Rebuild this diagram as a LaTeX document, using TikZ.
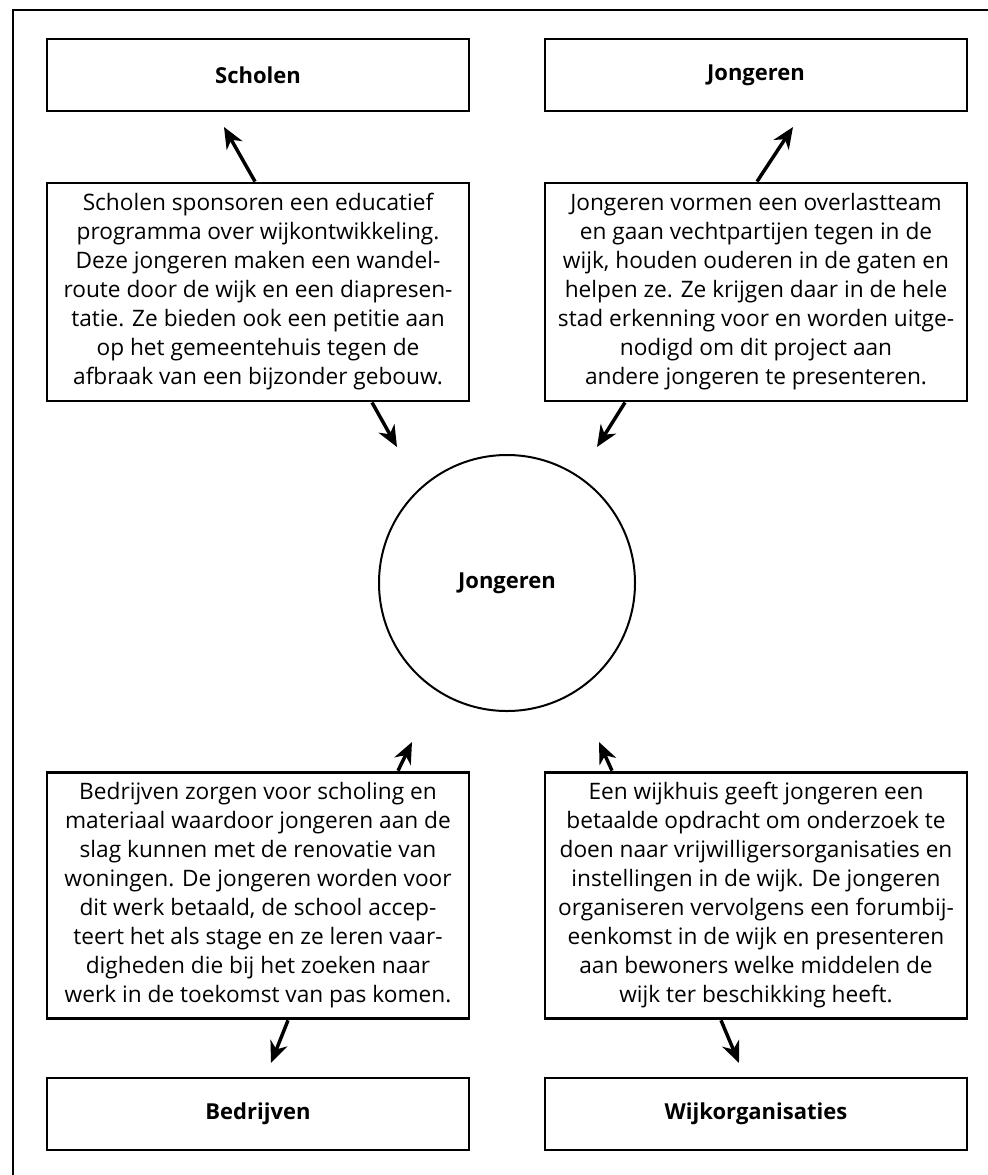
\documentclass[tikz,border=0pt]{standalone}
\usepackage{fontspec}
\setmainfont{Open Sans}
\usetikzlibrary{arrows.meta}

\tikzset{
	kader/.style={draw, line width=2.2pt, rectangle, minimum width=316.5pt, inner sep=0pt},
	titelbox/.style={kader, minimum height=54pt, font=\fontsize{16.5}{18}\selectfont\bfseries},
	tekstbox/.style={kader, align=center, font=\fontsize{17}{21.75}\selectfont},
	middelpunt/.style={draw, circle, line width=1.5pt, minimum size=192pt, font=\fontsize{16.5}{18}\selectfont\bfseries},
	pijl/.style={line width=2.6pt, -{Stealth[length=16pt, width=13.5pt, inset=5pt]}}
}

\begin{document}
\begin{tikzpicture}[x=0.75pt, y=-0.75pt]
\useasboundingbox (0,0) rectangle (988,1175);
\draw[line width=2.2pt] (13,1180) -- (13,10) -- (995,10);

\pgfmathsetmacro{\kolL}{258}
\pgfmathsetmacro{\kolR}{756}

\node[titelbox] (scholen) at (\kolL,75) {Scholen};
\node[titelbox] (jongerenB) at (\kolR,75) {Jongeren};

\node[tekstbox, minimum height=163.5pt] (tekstA) at (\kolL,292) {Scholen sponsoren een educatief\\
programma over wijkontwikkeling.\\
Deze jongeren maken een wandel-\\
route door de wijk en een diapresen-\\
tatie. Ze bieden ook een petitie aan\\
op het gemeentehuis tegen de\\
afbraak van een bijzonder gebouw.};
\node[tekstbox, minimum height=163.5pt] (tekstB) at (\kolR,292) {Jongeren vormen een overlastteam\\
en gaan vechtpartijen tegen in de\\
wijk, houden ouderen in de gaten en\\
helpen ze. Ze krijgen daar in de hele\\
stad erkenning voor en worden uitge-\\
nodigd om dit project aan\\
andere jongeren te presenteren.};

\node[middelpunt] (jongeren) at (507,583) {Jongeren};

\node[tekstbox, minimum height=185pt] (tekstC) at (\kolL,895.5) {Bedrijven zorgen voor scholing en\\
materiaal waardoor jongeren aan de\\
slag kunnen met de renovatie van\\
woningen. De jongeren worden voor\\
dit werk betaald, de school accep-\\
teert het als stage en ze leren vaar-\\
digheden die bij het zoeken naar\\
werk in de toekomst van pas komen.};
\node[tekstbox, minimum height=185pt] (tekstD) at (\kolR,895.5) {Een wijkhuis geeft jongeren een\\
betaalde opdracht om onderzoek te\\
doen naar vrijwilligersorganisaties en\\
instellingen in de wijk. De jongeren\\
organiseren vervolgens een forumbij-\\
eenkomst in de wijk en presenteren\\
aan bewoners welke middelen de\\
wijk ter beschikking heeft.};

\node[titelbox] (bedrijven) at (\kolL,1114) {Bedrijven};
\node[titelbox] (wijkorg) at (\kolR,1114) {Wijkorganisaties};

% vrije pijlpunten
\coordinate (puntA) at (224,127);
\coordinate (puntB) at (793,127);
\coordinate (puntC) at (397,447);
\coordinate (puntD) at (597,447);
\coordinate (puntE) at (412,742);
\coordinate (puntF) at (599,742);
\coordinate (puntG) at (271,1063);
\coordinate (puntH) at (739,1063);

\draw[pijl] ([xshift=-2.25pt]tekstA.north) -- (puntA);
\draw[pijl] ([xshift=0.75pt]tekstB.north) -- (puntB);
\draw[pijl] ([xshift=85.5pt]tekstA.south) -- (puntC);
\draw[pijl] ([xshift=-98.25pt]tekstB.south) -- (puntD);
\draw[pijl] ([xshift=105pt]tekstC.north) -- (puntE);
\draw[pijl] ([xshift=-108pt]tekstD.north) -- (puntF);
\draw[pijl] ([xshift=22.5pt]tekstC.south) -- (puntG);
\draw[pijl] ([xshift=-26.25pt]tekstD.south) -- (puntH);
\end{tikzpicture}
\end{document}
